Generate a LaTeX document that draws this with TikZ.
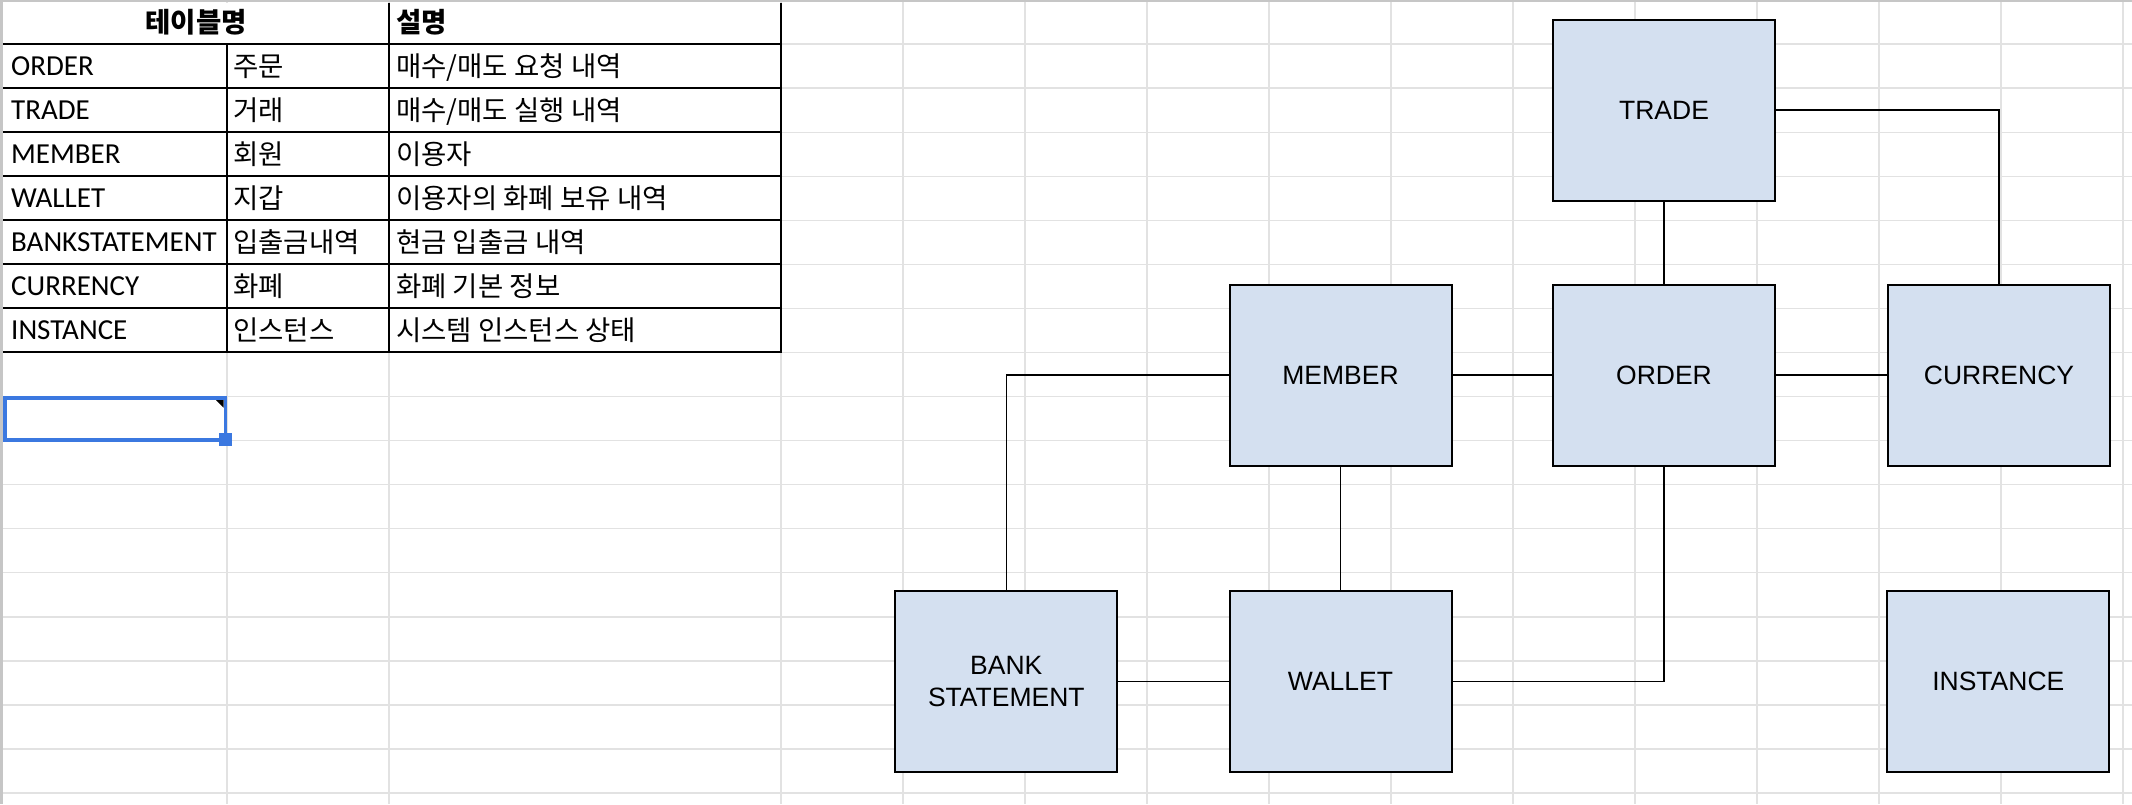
\documentclass[tikz,border=0pt]{standalone}
\usepackage{fontspec}
\setmainfont{Liberation Sans}
\newfontfamily\calfont{Carlito}
\newfontfamily\krfont{Noto Sans CJK KR}
\definecolor{gridgray}{HTML}{E2E2E2}
\definecolor{edgegray}{HTML}{C6C6C6}
\definecolor{boxfill}{HTML}{D4E0F0}
\definecolor{selblue}{HTML}{3B78E0}
\tikzset{
  entity/.style={draw=black, line width=2pt, fill=boxfill, minimum width=222pt, minimum height=181pt, inner sep=0pt, align=center, font=\fontsize{26.5}{31.5}\selectfont},
  link/.style={draw=black, line width=1.6pt},
  latcell/.style={anchor=base west, inner sep=0pt, font=\calfont\fontsize{29}{30}\selectfont},
  krcell/.style={anchor=base west, inner sep=0pt, font=\krfont\fontsize{27.5}{30}\selectfont},
  krhead/.style={anchor=base, inner sep=0pt, font=\krfont\bfseries\fontsize{27.5}{30}\selectfont},
  tabline/.style={draw=black, line width=2pt},
  gridline/.style={draw=gridgray, line width=1.3pt}
}
\begin{document}
\begin{tikzpicture}[x=1pt,y=-1pt]
\useasboundingbox (0,0) rectangle (2132,804);
\fill[white] (0,0) rectangle (2132,804);
% spreadsheet grid
\foreach \k in {1,...,18} {\draw[gridline] (0,{44.06*\k}) -- (2132,{44.06*\k});}
\foreach \gx in {227,389,781,903,1025,1147,1269,1391,1513,1635,1757,1879,2001,2123} {\draw[gridline] (\gx,0) -- (\gx,804);}
\draw[edgegray, line width=2.5pt] (0,1.2) -- (2132,1.2);
\draw[edgegray, line width=3pt] (1.5,0) -- (1.5,804);
% table
\fill[white] (3.5,2.5) rectangle (780,352);
\foreach \k in {1,...,8} {\draw[tabline] (3,{44.06*\k}) -- (782,{44.06*\k});}
\draw[tabline] (227,44.06) -- (227,352.5);
\draw[tabline] (389,2.5) -- (389,352.5);
\draw[tabline] (781,2.5) -- (781,352.5);
% header
\node[krhead] (h1) at (196,32) {테이블명};
\node[krhead, anchor=base west] (h2) at (396,32) {설명};
% rows
\node[latcell] (a1) at (11,{44.06*2-12.5}) {ORDER};
\node[latcell] (a2) at (11,{44.06*3-12.5}) {TRADE};
\node[latcell] (a3) at (11,{44.06*4-12.5}) {MEMBER};
\node[latcell] (a4) at (11,{44.06*5-12.5}) {WALLET};
\node[latcell] (a5) at (11,{44.06*6-12.5}) {BANKSTATEMENT};
\node[latcell] (a6) at (11,{44.06*7-12.5}) {CURRENCY};
\node[latcell] (a7) at (11,{44.06*8-12.5}) {INSTANCE};
\node[krcell] (b1) at (233,{44.06*2-12}) {주문};
\node[krcell] (b2) at (233,{44.06*3-12}) {거래};
\node[krcell] (b3) at (233,{44.06*4-12}) {회원};
\node[krcell] (b4) at (233,{44.06*5-12}) {지갑};
\node[krcell] (b5) at (233,{44.06*6-12}) {입출금내역};
\node[krcell] (b6) at (233,{44.06*7-12}) {화폐};
\node[krcell] (b7) at (233,{44.06*8-12}) {인스턴스};
\node[krcell] (c1) at (396,{44.06*2-12}) {매수/매도 요청 내역};
\node[krcell] (c2) at (396,{44.06*3-12}) {매수/매도 실행 내역};
\node[krcell] (c3) at (396,{44.06*4-12}) {이용자};
\node[krcell] (c4) at (396,{44.06*5-12}) {이용자의 화폐 보유 내역};
\node[krcell] (c5) at (396,{44.06*6-12}) {현금 입출금 내역};
\node[krcell] (c6) at (396,{44.06*7-12}) {화폐 기본 정보};
\node[krcell] (c7) at (396,{44.06*8-12}) {시스템 인스턴스 상태};
% selected cell
\draw[selblue, line width=3.5pt] (4.8,398) rectangle (225.5,439.8);
\fill[black] (216,400) -- (223.7,400) -- (223.7,407.7) -- cycle;
\fill[selblue] (219.3,433.3) rectangle (231.7,445.7);
% entities
\node[entity] (trade) at (1664,110) {TRADE};
\node[entity] (member) at (1340.5,375) {MEMBER};
\node[entity] (order) at (1664,375) {ORDER};
\node[entity] (currency) at (1999,375) {CURRENCY};
\node[entity] (bank) at (1006.3,681.5) {BANK\\STATEMENT};
\node[entity] (wallet) at (1340.5,681.5) {WALLET};
\node[entity] (instance) at (1998.3,681.5) {INSTANCE};
% relations
\draw[link] (trade) -- (order);
\draw[link] (trade.east) -| (currency.north);
\draw[link] (member) -- (order);
\draw[link] (order) -- (currency);
\draw[link] (member.west) -| (bank.north);
\draw[link] (member) -- (wallet);
\draw[link] (bank) -- (wallet);
\draw[link] (wallet.east) -| (order.south);
\end{tikzpicture}
\end{document}
